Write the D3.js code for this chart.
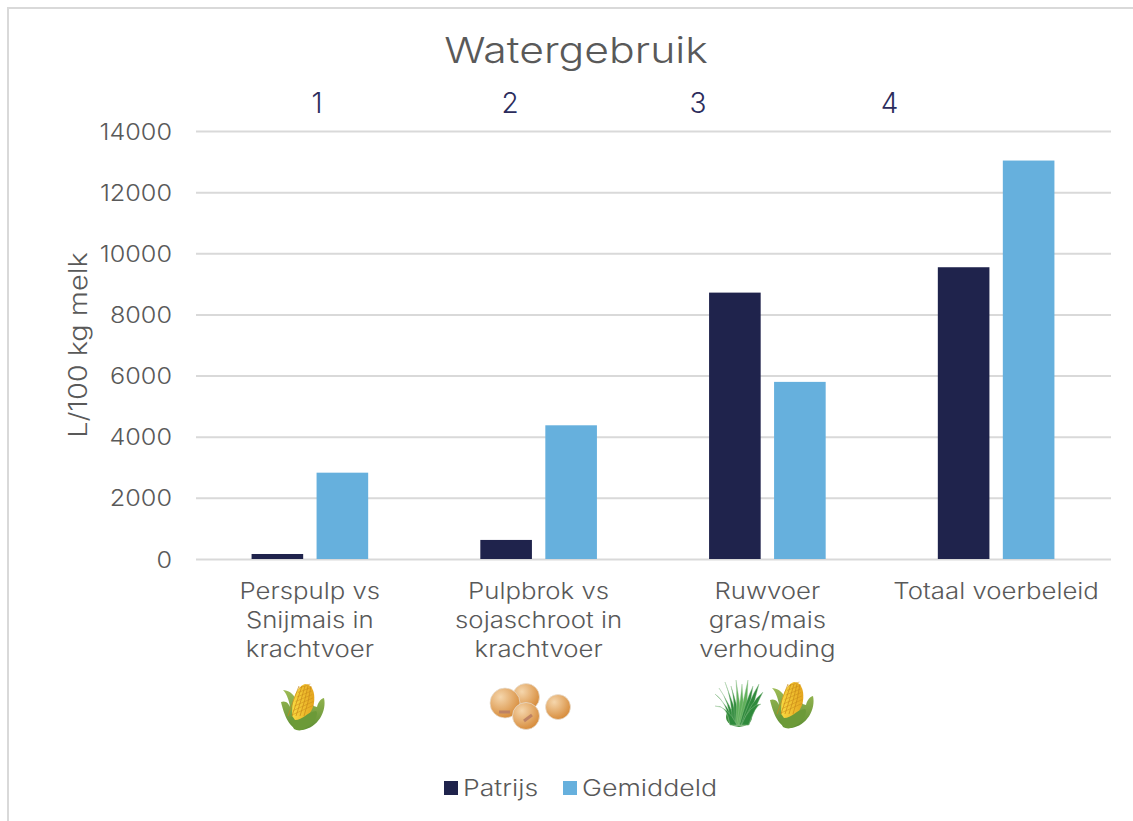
<!DOCTYPE html>
<html><head><meta charset="utf-8">
<script src="https://cdn.jsdelivr.net/npm/d3@7"></script>
<style>html,body{margin:0;padding:0;background:#fff}svg{display:block}text{font-family:Inter,"Open Sans",sans-serif;font-weight:300}</style>
</head><body><svg id="c" width="1133" height="821"></svg>
<script>
const categories=["Perspulp vs|Snijmais in|krachtvoer","Pulpbrok vs|sojaschroot in|krachtvoer","Ruwvoer|gras/mais|verhouding","Totaal voerbeleid"];
const patrijs=[180,640,8730,9560];
const gemiddeld=[2840,4390,5810,13050];
const seriesNames=["Patrijs","Gemiddeld"];
const seriesColors=["#1f234c","#66b0dd"];
const yTicks=[0,2000,4000,6000,8000,10000,12000,14000];
const stepLabels=["1","2","3","4"];
const stepX=[317,510,698,889.5];
const textCol="#595959";
const svg=d3.select("#c");
function widen(sel,k){sel.each(function(){const w=this.getComputedTextLength();d3.select(this).attr("textLength",w*k).attr("lengthAdjust","spacingAndGlyphs");});return sel;}
svg.append("path").attr("d","M8,821V8H1133").attr("fill","none").attr("stroke","#d9d9d9").attr("stroke-width",2);
const y=d3.scaleLinear().domain([0,14000]).range([559.5,131.5]);
const x=d3.scaleBand().domain(d3.range(4)).range([196,1111]);
svg.append("g").selectAll("line").data(yTicks).join("line")
 .attr("x1",196).attr("x2",1111).attr("y1",d=>y(d)).attr("y2",d=>y(d))
 .attr("stroke","#d9d9d9").attr("stroke-width",2);
widen(svg.append("g").selectAll("text").data(yTicks).join("text")
 .attr("x",172).attr("y",d=>y(d)+8).attr("text-anchor","end").attr("font-size",22.5).attr("fill",textCol).text(d=>d),1.12);
[patrijs,gemiddeld].forEach((vals,s)=>{
 svg.append("g").selectAll("rect").data(vals).join("rect")
  .attr("x",(d,i)=>x(i)+x.bandwidth()/2+(s?7:-58)-0.8)
  .attr("width",51.6).attr("y",d=>y(d)).attr("height",d=>y(0)-y(d)-0.5).attr("fill",seriesColors[s]);
});
widen(svg.append("text").attr("x",576).attr("y",63).attr("text-anchor","middle").attr("font-size",36).attr("fill",textCol).text("Watergebruik"),1.187);
svg.append("g").selectAll("text").data(stepLabels).join("text")
 .attr("x",(d,i)=>stepX[i]).attr("y",113).attr("text-anchor","middle").attr("font-size",28).attr("fill","#2b2c5c").text(d=>d);
widen(svg.append("text").attr("transform","translate(87,345) rotate(-90)").attr("text-anchor","middle").attr("font-size",25).attr("fill",textCol).text("L/100 kg melk"),1.155);
categories.forEach((c,i)=>{
 c.split("|").forEach((t,j)=>widen(svg.append("text").attr("x",x(i)+x.bandwidth()/2-0.5).attr("y",599+j*29).attr("text-anchor","middle").attr("font-size",22.5).attr("fill",textCol).text(t),1.145));
});
const lg=svg.append("g");
lg.append("rect").attr("x",444).attr("y",781).attr("width",14).attr("height",14).attr("fill",seriesColors[0]);
widen(lg.append("text").attr("x",463).attr("y",796).attr("font-size",22.5).attr("fill",textCol).text(seriesNames[0]),1.18);
lg.append("rect").attr("x",563).attr("y",781).attr("width",14).attr("height",14).attr("fill",seriesColors[1]);
widen(lg.append("text").attr("x",582).attr("y",796).attr("font-size",22.5).attr("fill",textCol).text(seriesNames[1]),1.19);
// icons
const defs=svg.append("defs");
const rg=defs.append("radialGradient").attr("id","bean").attr("cx","35%").attr("cy","30%").attr("r","80%");
rg.append("stop").attr("offset","0").attr("stop-color","#f5d6ac");rg.append("stop").attr("offset","1").attr("stop-color","#d4842f");
const lgc=defs.append("linearGradient").attr("id","kern").attr("x1",0).attr("x2",1);
lgc.append("stop").attr("offset","0").attr("stop-color","#f8d840");lgc.append("stop").attr("offset","1").attr("stop-color","#e5a51e");
const hk=defs.append("linearGradient").attr("id","husk").attr("x1",0).attr("x2",0).attr("y1",0).attr("y2",1);
hk.append("stop").attr("offset","0").attr("stop-color","#9dbb55");hk.append("stop").attr("offset","1").attr("stop-color","#5f8f34");
function corn(cx,cy){
 const g=svg.append("g").attr("transform",`translate(${cx},${cy})`);
 g.append("path").attr("d","M-22,-5 C-17,-7 -14,-3 -13,0 C-14,-8 -17,-14 -20,-17 C-12,-16 -9,-12 -6,-6 L14,0 C15,-4 17,-8 21,-9 C24,4 15,21 -1,23 C-13,24 -19,8 -22,-5Z").attr("fill","url(#husk)");
 g.append("path").attr("d","M-10,13 C-13,-2 -8,-20 2,-23 C11,-23 13,-10 10,0 C7,9 -2,15 -10,13Z").attr("fill","url(#kern)");
 for(let k=-2;k<=2;k++){g.append("path").attr("d",`M${-7+k*4},${9} Q${-2+k*4},-6 ${2+k*3},-21`).attr("stroke","#c98a18").attr("stroke-width",.7).attr("fill","none");}
 for(let k=0;k<7;k++){g.append("path").attr("d",`M${-11+k*1.2},${8-k*4.5} L${11-k*.6},${-2-k*3.5}`).attr("stroke","#c98a18").attr("stroke-width",.5).attr("fill","none");}
 g.append("path").attr("d","M-9,22 C-15,10 -12,6 -8,13 C0,13 4,5 13,4 C16,6 12,18 -1,23 C-4,24 -7,23 -9,22Z").attr("fill","#6c9a38");
}
function grass(cx,cy){
 const g=svg.append("g").attr("transform",`translate(${cx},${cy})`);
 g.append("ellipse").attr("cy",13).attr("rx",13).attr("ry",10).attr("fill","#3e8f3e");
 [[-24,-10],[-20,-16],[-14,-22],[-8,-18],[-3,-24],[3,-20],[9,-24],[14,-18],[20,-20],[24,-12],[-24,2],[22,0]].forEach(t=>{
  g.append("path").attr("d",`M${t[0]*.25-3},21 Q${t[0]*.5},${t[1]*.2} ${t[0]},${t[1]} Q${t[0]*.6+3},${t[1]*.1+2} ${t[0]*.25+4},21Z`).attr("fill",t[0]%2?"#5fb05a":"#2f8a3c").attr("stroke","#9cc79a").attr("stroke-width",.4);
 });
}
function bean(cx,cy,r){
 svg.append("circle").attr("cx",cx).attr("cy",cy).attr("r",r).attr("fill","url(#bean)").attr("stroke","#e6e0d6").attr("stroke-width",.7);
}
corn(303,707);
bean(526,697,13.5);bean(505,703,15);bean(526,716,13.5);bean(558,707,12.5);
svg.append("path").attr("d","M499,712h11").attr("stroke","#bd8264").attr("stroke-width",3);
svg.append("path").attr("d","M524,721l8,-6").attr("stroke","#bd8264").attr("stroke-width",3);
grass(739,704);
corn(792,705);
</script></body></html>
